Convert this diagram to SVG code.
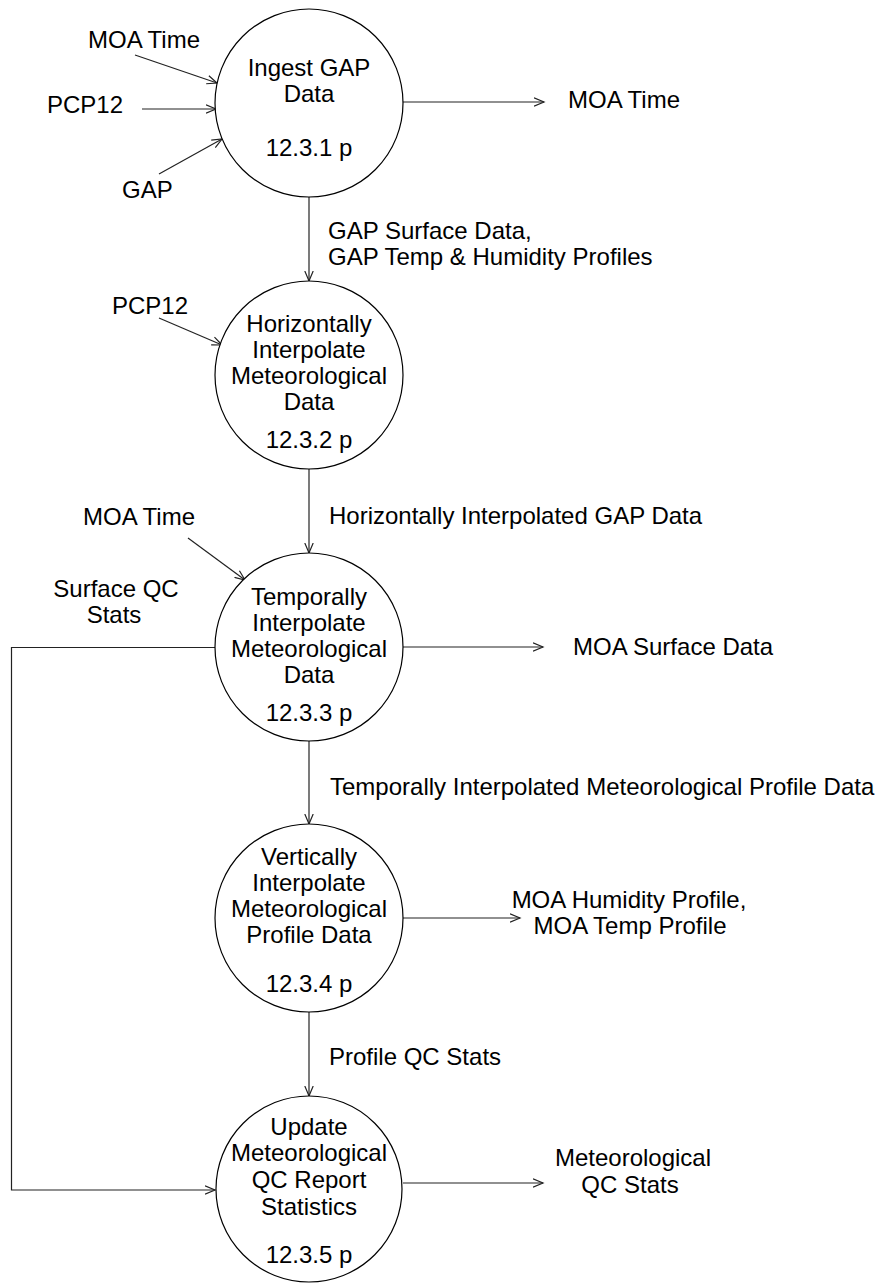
<svg xmlns="http://www.w3.org/2000/svg" width="878" height="1283" viewBox="0 0 878 1283">
<style>
text{font-family:"Liberation Sans",Arial,sans-serif;font-size:24px;fill:#000}
.c{text-anchor:middle}
.node{fill:#fff;stroke:#000;stroke-width:1.2}
.flow{fill:none;stroke:#222;stroke-width:1.2;marker-end:url(#arr)}
</style>
<defs>
<marker id="arr" markerUnits="userSpaceOnUse" viewBox="0 0 12 10" refX="10.5" refY="5" markerWidth="12" markerHeight="10" orient="auto">
<path d="M0.5,0.8 L10.5,5 L0.5,9.2" fill="none" stroke="#222" stroke-width="1.2"/>
</marker>
</defs>
<rect width="878" height="1283" fill="#fff"/>
<g id="connectors">
<line class="flow" x1="135" y1="55" x2="217" y2="83"/>
<line class="flow" x1="142" y1="109" x2="216" y2="109"/>
<line class="flow" x1="159" y1="174" x2="222" y2="139"/>
<line class="flow" x1="403" y1="102" x2="544" y2="102"/>
<line class="flow" x1="309" y1="197" x2="309" y2="281"/>
<line class="flow" x1="159" y1="318" x2="222" y2="345"/>
<line class="flow" x1="309" y1="469" x2="309" y2="553"/>
<line class="flow" x1="188" y1="538" x2="245" y2="580"/>
<line class="flow" x1="403" y1="647" x2="543" y2="647"/>
<path class="flow" d="M215,647.5 H11.5 V1190 H215"/>
<line class="flow" x1="309" y1="741" x2="309" y2="824"/>
<line class="flow" x1="403" y1="918" x2="520" y2="918"/>
<line class="flow" x1="309" y1="1012" x2="309" y2="1096"/>
<line class="flow" x1="403" y1="1183" x2="543" y2="1183"/>
<text x="88" y="48">MOA Time</text>
<text x="47" y="113">PCP12</text>
<text x="122" y="198">GAP</text>
<text x="568" y="108">MOA Time</text>
<text x="328" y="239">GAP Surface Data,</text>
<text x="328" y="265">GAP Temp &amp; Humidity Profiles</text>
<text x="112" y="314">PCP12</text>
<text x="329" y="524">Horizontally Interpolated GAP Data</text>
<text x="83" y="525">MOA Time</text>
<text class="c" x="116" y="597">Surface QC</text>
<text class="c" x="114" y="623">Stats</text>
<text x="573" y="655">MOA Surface Data</text>
<text x="330" y="795">Temporally Interpolated Meteorological Profile Data</text>
<text class="c" x="629" y="908">MOA Humidity Profile,</text>
<text class="c" x="630" y="934">MOA Temp Profile</text>
<text x="329" y="1065">Profile QC Stats</text>
<text class="c" x="633" y="1166">Meteorological</text>
<text class="c" x="630" y="1193">QC Stats</text>
</g>
<g id="p1231">
<circle class="node" cx="309" cy="103" r="94"/>
<text class="c" x="309" y="76">Ingest GAP</text>
<text class="c" x="309" y="102">Data</text>
<text class="c" x="309" y="156">12.3.1 p</text>
</g>
<g id="p1232">
<circle class="node" cx="309" cy="375" r="94"/>
<text class="c" x="309" y="332">Horizontally</text>
<text class="c" x="309" y="358">Interpolate</text>
<text class="c" x="309" y="384">Meteorological</text>
<text class="c" x="309" y="410">Data</text>
<text class="c" x="309" y="448">12.3.2 p</text>
</g>
<g id="p1233">
<circle class="node" cx="309" cy="647" r="94"/>
<text class="c" x="309" y="605">Temporally</text>
<text class="c" x="309" y="631">Interpolate</text>
<text class="c" x="309" y="657">Meteorological</text>
<text class="c" x="309" y="683">Data</text>
<text class="c" x="309" y="721">12.3.3 p</text>
</g>
<g id="p1234">
<circle class="node" cx="309" cy="918" r="94"/>
<text class="c" x="309" y="865">Vertically</text>
<text class="c" x="309" y="891">Interpolate</text>
<text class="c" x="309" y="917">Meteorological</text>
<text class="c" x="309" y="943">Profile Data</text>
<text class="c" x="309" y="992">12.3.4 p</text>
</g>
<g id="p1235">
<circle class="node" cx="309" cy="1189" r="93"/>
<text class="c" x="309" y="1135">Update</text>
<text class="c" x="309" y="1161">Meteorological</text>
<text class="c" x="309" y="1188">QC Report</text>
<text class="c" x="309" y="1215">Statistics</text>
<text class="c" x="309" y="1263">12.3.5 p</text>
</g>
</svg>
